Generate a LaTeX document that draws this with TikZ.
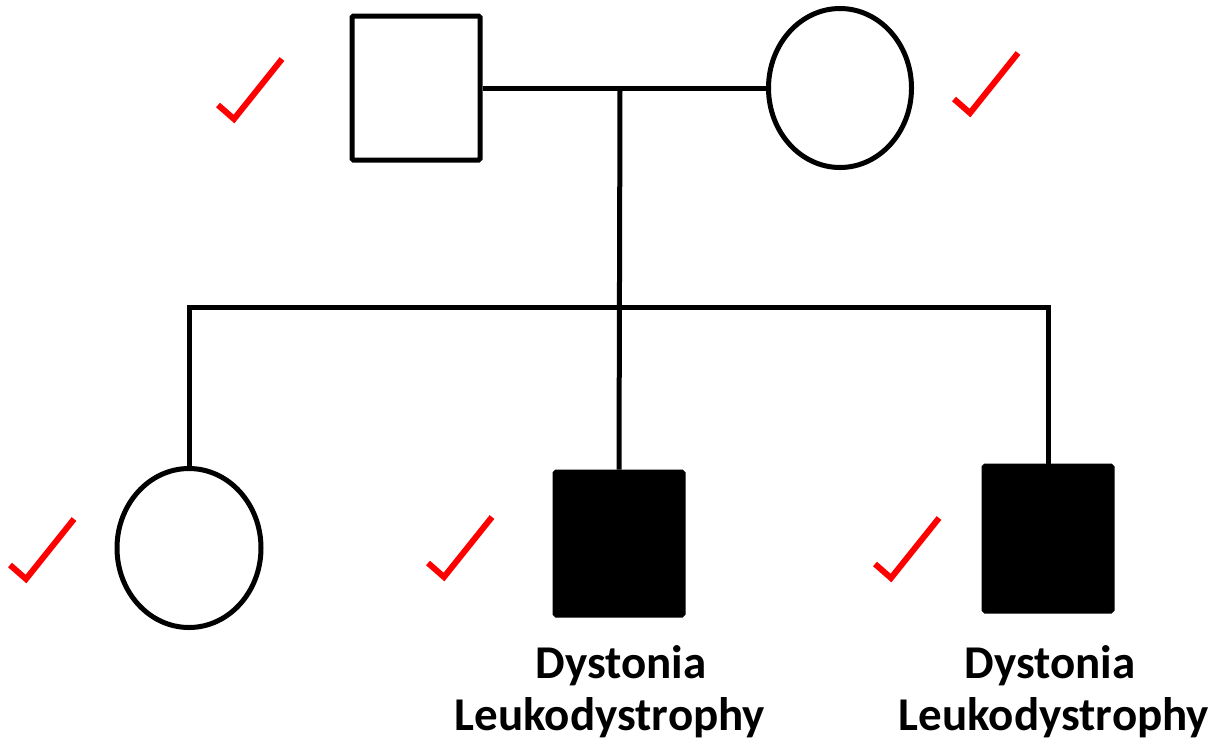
\documentclass[tikz,border=0pt]{standalone}
\usepackage{fontspec}
\setmainfont{Carlito}
\usetikzlibrary{calc,shapes.geometric}

\tikzset{
	male/.style={draw,line width=5pt,rounded corners=1.5pt,minimum width=128pt,minimum height=144pt,inner sep=0pt},
	female/.style={draw,line width=5pt,ellipse,minimum width=144pt,minimum height=160pt,inner sep=0pt},
	affected/.style={fill=black},
	tick/.style={draw=red,line width=6pt},
	disease/.style={anchor=base,inner sep=0pt,font=\fontsize{47}{52}\bfseries}
}

\begin{document}
\begin{tikzpicture}[x=1pt,y=-1pt]
		\useasboundingbox (0,0) rectangle (1212,748);
		\newcommand{\chk}[1]{\draw[tick] (#1) -- ++(16,14) -- ++(48,-60);} %チェック
		% 親
		\node[male] (fa) at (416,88) {};
		\node[female,minimum width=143pt,minimum height=159pt] (mo) at (840,88) {};
		\draw[line width=5pt] (fa.east) -- (mo.west); %婚姻線
		\coordinate (mate) at (620,88);
		\coordinate (sib) at (620,307);
		% 子
		\node[female,minimum width=144pt,minimum height=159pt] (dau) at (189,548) {};
		\node[male,affected,minimum height=143pt] (son1) at (619,543.5) {};
		\node[male,affected,minimum height=145pt] (son2) at (1048,538.5) {};
		\draw[line width=5pt] (mate) -- (son1.north); %縦線
		\draw[line width=5pt] (dau.north) |- (sib) -| (son2.north); %同胞線
		% 病名
		\node[disease] (dys1) at (621,678) {Dystonia};
		\node[disease] (leu1) at (610,730) {Leukodystrophy};
		\node[disease] (dys2) at (1050,678) {Dystonia};
		\node[disease] (leu2) at (1054,730) {Leukodystrophy};
		% チェック
		\foreach \x/\y in {218/105,954/99,10/565,428/563,875/564}{
			\coordinate (c) at (\x,\y);
			\chk{c}
		}
	\end{tikzpicture}
\end{document}
